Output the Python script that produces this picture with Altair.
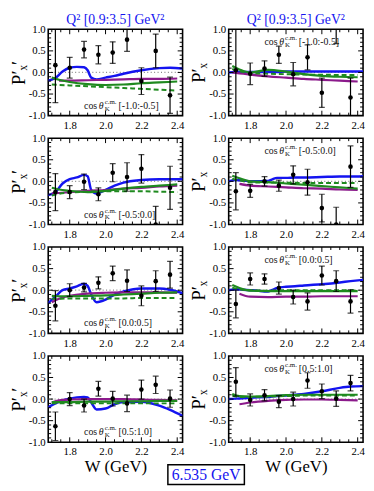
import altair as alt
import pandas as pd

# ------------------------------------------------------------------ data
W_POINTS = [1.72, 1.80, 1.88, 1.96, 2.04, 2.12, 2.20, 2.28, 2.36]
W_BLUE = [1.68, 1.72, 1.76, 1.80, 1.84, 1.88, 1.90, 1.92, 1.95, 2.00, 2.05, 2.10, 2.20, 2.30, 2.36, 2.43]
W_SMOOTH = [1.70, 1.74, 1.80, 1.90, 2.00, 2.10, 2.20, 2.30, 2.40]

COS_BINS = ["[-1.0:-0.5]", "[-0.5:0.0]", "[0.0:0.5]", "[0.5:1.0]"]
COLUMN_TITLE = "Q² [0.9:3.5] GeV²"
BEAM_LABEL = "6.535 GeV"
X_TITLE = "W (GeV)"
Y_TITLES = ["P′ₓ′", "P′ₓ"]

X_MAJOR = [1.8, 2.0, 2.2, 2.4]
X_MINOR = [1.70, 1.75, 1.85, 1.90, 1.95, 2.05, 2.10, 2.15, 2.25, 2.30, 2.35]
Y_MAJOR = [-1.0, -0.5, 0.0, 0.5, 1.0]
Y_MINOR = [-0.9, -0.8, -0.7, -0.6, -0.4, -0.3, -0.2, -0.1,
           0.1, 0.2, 0.3, 0.4, 0.6, 0.7, 0.8, 0.9]

# row 1 (cos bin [-1.0:-0.5])
PX_1L = [0.17, 0.11, 0.53, 0.41, 0.46, 0.76, -0.20, 0.50, -0.53]
ERR_1L = [0.87, 0.24, 0.19, 0.21, 0.25, 0.27, 0.31, 0.39, 0.42]
BLUE_1L = [-0.19, -0.13, 0.02, 0.11, 0.13, 0.12, 0.05, -0.12, -0.16, -0.12, -0.08, -0.03, 0.05, 0.10, 0.11, 0.09]
PURPLE_1L = [None, -0.19, -0.19, -0.18, -0.17, -0.16, -0.15, -0.15, -0.14]
GREEN_1L = [-0.12, -0.17, -0.22, -0.27, -0.29, -0.28, -0.25, -0.23, -0.21]
GDASH_1L = [-0.28, -0.29, -0.30, -0.32, -0.34, -0.36, -0.38, -0.40, -0.42]

PX_1R = [0.05, -0.03, 0.09, 0.41, -0.04, 0.35, -0.47, 1.15, -0.58]
ERR_1R = [1.30, 0.25, 0.18, 0.20, 0.27, 0.29, 0.34, 0.48, 0.45]
BLUE_1R = [0.00, 0.01, 0.01, 0.01, 0.01, 0.01, 0.01, 0.01, 0.01, 0.02, 0.02, 0.02, 0.02, 0.02, 0.02, 0.02]
PURPLE_1R = [0.00, -0.02, -0.05, -0.09, -0.12, -0.15, -0.17, -0.19, -0.21]
GREEN_1R = [0.15, 0.07, 0.00, 0.06, 0.02, -0.04, -0.08, -0.10, -0.11]
GDASH_1R = [0.08, 0.03, -0.01, -0.03, -0.04, -0.05, -0.05, -0.06, -0.06]

# row 2 (cos bin [-0.5:0.0])
PX_2L = [-0.25, -0.25, -0.01, -0.30, 0.20, 0.10, 0.29, -1.00, -0.15]
ERR_2L = [0.43, 0.15, 0.18, 0.15, 0.21, 0.33, 0.33, 0.42, 0.50]
BLUE_2L = [-0.32, -0.25, -0.05, 0.05, 0.09, 0.15, 0.12, -0.20, -0.28, -0.20, -0.10, -0.03, 0.03, 0.05, 0.05, 0.05]
PURPLE_2L = [-0.28, -0.27, -0.25, -0.22, -0.20, -0.17, -0.15, -0.12, -0.10]
GREEN_2L = [-0.15, -0.19, -0.22, -0.25, -0.22, -0.17, -0.13, -0.10, -0.07]
GDASH_2L = [-0.33, -0.29, -0.26, -0.24, -0.23, -0.23, -0.23, -0.24, -0.25]

PX_2R = [-0.23, -0.22, 0.00, -0.10, 0.15, -0.02, -0.62, -1.00, 0.34]
ERR_2R = [0.43, 0.15, 0.11, 0.13, 0.21, 0.30, 0.32, 0.40, 0.48]
BLUE_2R = [0.00, 0.03, 0.02, 0.00, 0.00, 0.01, 0.01, 0.04, 0.08, 0.08, 0.09, 0.09, 0.10, 0.11, 0.11, 0.12]
PURPLE_2R = [None, -0.06, -0.10, -0.12, -0.14, -0.16, -0.17, -0.19, -0.20]
GREEN_2R = [0.13, 0.07, 0.00, -0.02, -0.05, -0.08, -0.11, -0.14, -0.17]
GDASH_2R = [0.06, 0.02, -0.02, -0.03, -0.03, -0.04, -0.04, -0.04, -0.04]

# row 3 (cos bin [0.0:0.5])
PX_3L = [-0.36, 0.00, 0.06, 0.17, 0.39, 0.22, -0.13, 0.21, 0.36]
ERR_3L = [0.35, 0.15, 0.10, 0.14, 0.17, 0.25, 0.23, 0.24, 0.31]
BLUE_3L = [-0.30, -0.15, 0.00, 0.04, 0.09, 0.15, 0.10, -0.10, -0.28, -0.22, -0.10, -0.03, 0.04, 0.04, 0.01, -0.07]
PURPLE_3L = [-0.28, -0.20, -0.13, -0.08, -0.06, -0.05, -0.05, -0.05, -0.06]
GREEN_3L = [-0.13, -0.14, -0.14, -0.13, -0.12, -0.10, -0.08, -0.06, -0.05]
GDASH_3L = [-0.20, -0.20, -0.19, -0.19, -0.19, -0.19, -0.18, -0.18, -0.18]

PX_3R = [-0.32, 0.26, 0.26, 0.05, -0.16, -0.26, 0.34, 0.21, -0.26]
ERR_3R = [0.32, 0.14, 0.12, 0.14, 0.16, 0.20, 0.22, 0.24, 0.27]
BLUE_3R = [0.00, 0.02, 0.01, 0.00, -0.01, -0.03, -0.03, 0.00, 0.05, 0.08, 0.09, 0.11, 0.14, 0.18, 0.21, 0.24]
PURPLE_3R = [None, -0.08, -0.15, -0.16, -0.15, -0.15, -0.14, -0.14, -0.14]
GREEN_3R = [0.12, 0.05, -0.01, -0.02, -0.02, -0.02, -0.02, -0.02, -0.02]
GDASH_3R = [0.06, 0.02, 0.00, -0.01, 0.00, 0.00, 0.00, 0.00, 0.00]

# row 4 (cos bin [0.5:1.0])
PX_4L = [-0.63, 0.00, -0.15, 0.24, 0.01, -0.10, 0.22, 0.33, 0.01]
ERR_4L = [0.33, 0.15, 0.15, 0.17, 0.17, 0.19, 0.22, 0.20, 0.20]
BLUE_4L = [-0.19, -0.10, -0.03, 0.01, 0.04, 0.05, 0.04, -0.08, -0.24, -0.22, -0.12, -0.07, -0.06, -0.15, -0.25, -0.39]
PURPLE_4L = [-0.08, -0.03, -0.01, 0.00, 0.00, 0.00, -0.01, -0.02, -0.03]
GREEN_4L = [-0.07, -0.07, -0.07, -0.06, -0.06, -0.05, -0.05, -0.04, -0.04]
GDASH_4L = [-0.10, -0.10, -0.10, -0.10, -0.10, -0.10, -0.10, -0.10, -0.10]

PX_4R = [0.40, -0.02, 0.09, -0.06, 0.00, 0.43, 0.18, 0.01, 0.37]
ERR_4R = [0.33, 0.14, 0.13, 0.14, 0.16, 0.18, 0.17, 0.18, 0.18]
BLUE_4R = [0.00, 0.01, 0.02, 0.03, 0.04, 0.05, 0.05, 0.06, 0.07, 0.08, 0.10, 0.12, 0.18, 0.26, 0.29, 0.30]
PURPLE_4R = [None, -0.12, -0.08, -0.04, -0.02, -0.01, -0.01, -0.02, -0.03]
GREEN_4R = [0.12, 0.07, 0.06, 0.07, 0.09, 0.10, 0.10, 0.10, 0.10]
GDASH_4R = [0.08, 0.05, 0.05, 0.06, 0.07, 0.08, 0.08, 0.08, 0.08]

PANELS = [
    (PX_1L, ERR_1L, BLUE_1L, PURPLE_1L, GREEN_1L, GDASH_1L),
    (PX_1R, ERR_1R, BLUE_1R, PURPLE_1R, GREEN_1R, GDASH_1R),
    (PX_2L, ERR_2L, BLUE_2L, PURPLE_2L, GREEN_2L, GDASH_2L),
    (PX_2R, ERR_2R, BLUE_2R, PURPLE_2R, GREEN_2R, GDASH_2R),
    (PX_3L, ERR_3L, BLUE_3L, PURPLE_3L, GREEN_3L, GDASH_3L),
    (PX_3R, ERR_3R, BLUE_3R, PURPLE_3R, GREEN_3R, GDASH_3R),
    (PX_4L, ERR_4L, BLUE_4L, PURPLE_4L, GREEN_4L, GDASH_4L),
    (PX_4R, ERR_4R, BLUE_4R, PURPLE_4R, GREEN_4R, GDASH_4R),
]

# ------------------------------------------------------------------ style
SERIF = "Liberation Serif, Times New Roman, serif"
PW, PH = 137, 88
W_DOMAIN = [1.68, 2.43]
P_DOMAIN = [-1.0, 1.0]
BLUE, PURPLE, GREEN = "#1414f0", "#8b1a8b", "#1f8a1f"
ANN_W = 1.88
ANN_P = {0: -0.77, 1: 0.70}


def xenc(field, row):
    axis = alt.Axis(values=X_MAJOR, format=".1f", ticks=False, domain=False, grid=False,
                    labelFont=SERIF, labelFontSize=11, labelColor="black", labelPadding=4,
                    titleFont=SERIF, titleFontSize=17, titleFontWeight="normal",
                    titleColor="black", titlePadding=2)
    return alt.X(f"{field}:Q", scale=alt.Scale(domain=W_DOMAIN, nice=False, zero=False),
                 axis=axis, title=X_TITLE if row == 3 else None)


def yenc(field, col):
    axis = alt.Axis(values=Y_MAJOR, ticks=False, domain=False, grid=False,
                    labelExpr="(datum.value < 0 ? '-' : '') + format(abs(datum.value), '.1f')",
                    labelFont=SERIF, labelFontSize=11, labelColor="black", labelPadding=3,
                    titleFont=SERIF, titleFontSize=19, titleFontWeight="normal",
                    titleColor="black", titlePadding=0)
    return alt.Y(f"{field}:Q", scale=alt.Scale(domain=P_DOMAIN, nice=False, zero=False),
                 axis=axis, title=Y_TITLES[col])


def make_panel(idx):
    row, col = divmod(idx, 2)
    px, err, blue, purple, green, gdash = PANELS[idx]
    X = lambda f="W": xenc(f, row)
    Y = lambda f="P": yenc(f, col)
    layers = []

    zero = pd.DataFrame({"P": [0.0]})
    layers.append(alt.Chart(zero).mark_rule(color="#888", strokeWidth=1.2, strokeDash=[1, 2.5])
                  .encode(y=Y()))

    def curve(ws, vals, color, width, dash=None):
        df = pd.DataFrame({"W": ws, "P": vals}).dropna()
        kw = dict(color=color, strokeWidth=width, interpolate="monotone", clip=True)
        if dash:
            kw["strokeDash"] = dash
        return alt.Chart(df).mark_line(**kw).encode(x=X(), y=Y(), order="W:Q")

    layers.append(curve(W_BLUE, blue, BLUE, 2.5))
    layers.append(curve(W_SMOOTH, purple, PURPLE, 2.2))
    layers.append(curve(W_SMOOTH, green, GREEN, 2.2))
    layers.append(curve(W_SMOOTH, gdash, GREEN, 2.0, [5, 3]))

    pts = pd.DataFrame({"W": W_POINTS, "P": px,
                        "lo": [v - e for v, e in zip(px, err)],
                        "hi": [v + e for v, e in zip(px, err)]})
    layers.append(alt.Chart(pts).mark_rule(color="black", strokeWidth=1.2, clip=True)
                  .encode(x=X(), y=Y("lo"), y2="hi:Q"))
    layers.append(alt.Chart(pts).mark_tick(color="black", orient="horizontal", size=6,
                                           thickness=1.2, clip=True)
                  .encode(x=X(), y=Y("lo")))
    layers.append(alt.Chart(pts).mark_tick(color="black", orient="horizontal", size=6,
                                           thickness=1.2, clip=True)
                  .encode(x=X(), y=Y("hi")))
    layers.append(alt.Chart(pts).mark_circle(color="black", size=22, opacity=1, clip=True)
                  .encode(x=X(), y=Y()))

    # frame ticks (inward, all four sides)
    for vals, ln in ((X_MAJOR, 5), (X_MINOR, 3)):
        dfx = pd.DataFrame({"W": vals})
        layers.append(alt.Chart(dfx).mark_rule(color="black", strokeWidth=1)
                      .encode(x=X(), y=alt.value(PH), y2=alt.value(PH - ln)))
        layers.append(alt.Chart(dfx).mark_rule(color="black", strokeWidth=1)
                      .encode(x=X(), y=alt.value(0), y2=alt.value(ln)))
    for vals, ln in ((Y_MAJOR[1:-1], 5), (Y_MINOR, 3)):
        dfy = pd.DataFrame({"P": vals})
        layers.append(alt.Chart(dfy).mark_rule(color="black", strokeWidth=1)
                      .encode(y=Y(), x=alt.value(0), x2=alt.value(ln)))
        layers.append(alt.Chart(dfy).mark_rule(color="black", strokeWidth=1)
                      .encode(y=Y(), x=alt.value(PW), x2=alt.value(PW - ln)))

    # cos theta annotation
    ann = pd.DataFrame({"W": [ANN_W], "P": [ANN_P[col]], "cos": ["cos"], "th": ["θ"],
                        "sub": ["K"], "sup": ["c.m."], "bin": [COS_BINS[row]]})
    base = alt.Chart(ann).encode(x=X(), y=Y())
    tk = dict(align="left", baseline="middle", font=SERIF, color="#111")
    layers.append(base.mark_text(fontSize=10, **tk).encode(text="cos:N"))
    layers.append(base.mark_text(fontSize=10, dx=15, fontStyle="italic", **tk).encode(text="th:N"))
    layers.append(base.mark_text(fontSize=7, dx=21, dy=3, **tk).encode(text="sub:N"))
    layers.append(base.mark_text(fontSize=7, dx=21, dy=-4, **tk).encode(text="sup:N"))
    layers.append(base.mark_text(fontSize=10, dx=35, **tk).encode(text="bin:N"))

    if row == 0:
        ttl = pd.DataFrame({"label": [COLUMN_TITLE]})
        layers.append(alt.Chart(ttl).mark_text(font=SERIF, fontSize=14, color=BLUE,
                                               align="center", baseline="alphabetic")
                      .encode(text="label:N", x=alt.value(PW / 2), y=alt.value(-5)))

    if idx == 6:
        box = pd.DataFrame({"label": [BEAM_LABEL]})
        layers.append(alt.Chart(box).mark_rect(fill="white", stroke="black", strokeWidth=1.5)
                      .encode(x=alt.value(122), x2=alt.value(200),
                              y=alt.value(111), y2=alt.value(131)))
        layers.append(alt.Chart(box).mark_text(font=SERIF, fontSize=16, color=BLUE,
                                               align="center", baseline="middle")
                      .encode(text="label:N", x=alt.value(161), y=alt.value(121)))

    return alt.layer(*layers).properties(width=PW, height=PH)


chart = alt.concat(*[make_panel(i) for i in range(8)], columns=2,
                   spacing={"row": 23, "column": 47}, bounds="flush").properties(
    padding={"left": 0, "top": 0, "right": 0, "bottom": 0}
).configure_view(stroke="black", strokeWidth=1.6)

chart.save("out.html", embed_options={"renderer": "svg", "actions": False})
